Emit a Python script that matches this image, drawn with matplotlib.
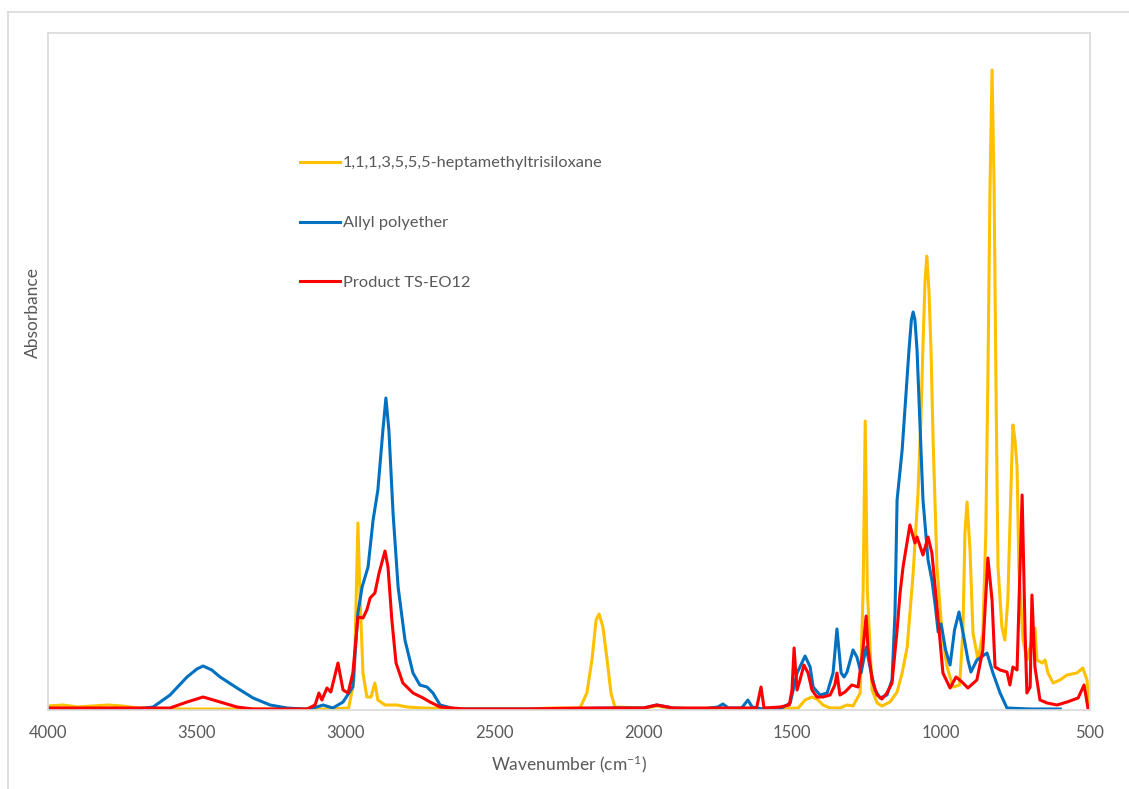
import matplotlib
matplotlib.use("Agg")
import matplotlib.pyplot as plt
from matplotlib.lines import Line2D

plt.rcParams["font.family"] = ["Lato", "DejaVu Sans"]
plt.rcParams["mathtext.default"] = "regular"

# 1,1,1,3,5,5,5-heptamethyltrisiloxane
hep_wn = [4000, 3950, 3900, 3850, 3800, 3750, 3700, 3600, 3400, 3200, 3050, 2990,
          2972, 2966, 2959, 2952, 2942, 2929, 2915, 2902, 2892, 2868, 2828, 2794,
          2740, 2600, 2400, 2300, 2213, 2190, 2173, 2159, 2149, 2136, 2122, 2109,
          2096, 2000, 1950, 1900, 1700, 1541, 1480, 1457, 1434, 1417, 1397, 1373,
          1340, 1316, 1296, 1272, 1262, 1255, 1248, 1232, 1215, 1199, 1172, 1148,
          1131, 1114, 1094, 1078, 1068, 1061, 1054, 1048, 1041, 1034, 1027, 1014,
          997, 980, 960, 938, 927, 920, 913, 903, 893, 876, 860, 850, 843, 836,
          829, 822, 816, 809, 796, 786, 776, 765, 759, 752, 745, 739, 725, 712,
          695, 685, 678, 661, 651, 641, 624, 601, 577, 544, 524, 510, 503]
hep_abs = [0.004, 0.005, 0.003, 0.004, 0.005, 0.004, 0.002, 0.001, 0.001, 0.001, 0.001, 0.002,
           0.030, 0.097, 0.187, 0.113, 0.037, 0.013, 0.013, 0.027, 0.010, 0.005, 0.005, 0.003,
           0.002, 0.001, 0.001, 0.002, 0.002, 0.017, 0.050, 0.090, 0.096, 0.083, 0.050, 0.017,
           0.003, 0.002, 0.004, 0.001, 0.001, 0.001, 0.002, 0.010, 0.013, 0.011, 0.005, 0.002,
           0.002, 0.005, 0.004, 0.017, 0.120, 0.289, 0.120, 0.020, 0.007, 0.004, 0.008, 0.018,
           0.037, 0.063, 0.137, 0.215, 0.290, 0.365, 0.430, 0.454, 0.420, 0.360, 0.270, 0.143,
           0.077, 0.043, 0.023, 0.025, 0.077, 0.177, 0.208, 0.160, 0.077, 0.050, 0.077, 0.177,
           0.330, 0.520, 0.640, 0.520, 0.330, 0.143, 0.083, 0.070, 0.110, 0.227, 0.285, 0.270,
           0.243, 0.143, 0.070, 0.050, 0.070, 0.082, 0.050, 0.047, 0.050, 0.037, 0.027, 0.030,
           0.035, 0.037, 0.042, 0.030, 0.007]

# Allyl polyether
allyl_wn = [4000, 3800, 3700, 3647, 3590, 3533, 3500, 3479, 3450, 3422, 3365, 3311,
            3254, 3197, 3143, 3120, 3076, 3043, 3009, 2976, 2959, 2945, 2925, 2908,
            2892, 2875, 2865, 2855, 2841, 2824, 2801, 2774, 2751, 2727, 2707, 2683,
            2633, 2500, 2300, 2100, 2000, 1955, 1900, 1800, 1750, 1733, 1715, 1670,
            1649, 1635, 1600, 1541, 1507, 1484, 1457, 1440, 1430, 1407, 1383, 1363,
            1350, 1336, 1326, 1316, 1296, 1283, 1269, 1252, 1239, 1222, 1205, 1182,
            1165, 1155, 1148, 1131, 1108, 1100, 1094, 1088, 1081, 1061, 1044, 1031,
            1020, 1010, 1000, 985, 970, 955, 940, 925, 910, 900, 880, 846, 826, 802,
            779, 700, 600]
allyl_abs = [0.001, 0.001, 0.001, 0.003, 0.015, 0.033, 0.041, 0.044, 0.040, 0.033, 0.022, 0.012,
             0.005, 0.002, 0.001, 0.001, 0.005, 0.002, 0.008, 0.023, 0.097, 0.123, 0.143, 0.190,
             0.220, 0.280, 0.312, 0.280, 0.197, 0.123, 0.070, 0.037, 0.025, 0.023, 0.017, 0.005,
             0.001, 0.001, 0.001, 0.002, 0.002, 0.005, 0.002, 0.001, 0.003, 0.006, 0.002, 0.002,
             0.010, 0.003, 0.001, 0.001, 0.007, 0.037, 0.054, 0.043, 0.023, 0.015, 0.017, 0.037,
             0.081, 0.037, 0.033, 0.038, 0.060, 0.053, 0.037, 0.063, 0.043, 0.020, 0.012, 0.015,
             0.030, 0.097, 0.210, 0.260, 0.360, 0.390, 0.398, 0.390, 0.360, 0.210, 0.150, 0.130,
             0.105, 0.078, 0.086, 0.060, 0.045, 0.080, 0.098, 0.075, 0.050, 0.038, 0.050, 0.057,
             0.037, 0.017, 0.002, 0.001, 0.001]

# Product TS-EO12
prod_wn = [4000, 3800, 3700, 3650, 3590, 3533, 3479, 3422, 3365, 3311, 3200, 3130,
           3103, 3090, 3080, 3063, 3050, 3026, 3009, 2992, 2976, 2959, 2942, 2929,
           2918, 2902, 2888, 2868, 2858, 2845, 2831, 2808, 2774, 2740, 2717, 2683,
           2600, 2400, 2200, 2000, 1955, 1900, 1700, 1620, 1605, 1595, 1541, 1510,
           1501, 1494, 1484, 1474, 1461, 1447, 1434, 1417, 1397, 1373, 1357, 1350,
           1340, 1323, 1300, 1279, 1262, 1252, 1246, 1232, 1215, 1199, 1182, 1165,
           1148, 1138, 1128, 1105, 1088, 1081, 1061, 1044, 1031, 1014, 994, 970,
           950, 930, 910, 880, 860, 843, 829, 819, 802, 779, 769, 759, 745, 728,
           718, 712, 701, 695, 685, 668, 644, 611, 577, 540, 520, 513, 507]
prod_abs = [0.002, 0.002, 0.002, 0.002, 0.002, 0.008, 0.013, 0.008, 0.003, 0.001, 0.001, 0.001,
            0.005, 0.017, 0.010, 0.022, 0.018, 0.047, 0.020, 0.017, 0.037, 0.093, 0.092, 0.100,
            0.112, 0.117, 0.137, 0.159, 0.143, 0.090, 0.047, 0.027, 0.017, 0.012, 0.008, 0.003,
            0.001, 0.001, 0.002, 0.002, 0.005, 0.002, 0.002, 0.002, 0.023, 0.002, 0.003, 0.005,
            0.020, 0.062, 0.020, 0.030, 0.045, 0.037, 0.020, 0.013, 0.013, 0.015, 0.025, 0.037,
            0.015, 0.018, 0.025, 0.023, 0.063, 0.094, 0.063, 0.030, 0.015, 0.011, 0.017, 0.027,
            0.080, 0.117, 0.143, 0.185, 0.167, 0.173, 0.155, 0.173, 0.157, 0.103, 0.037, 0.022,
            0.033, 0.028, 0.022, 0.030, 0.060, 0.152, 0.110, 0.043, 0.040, 0.038, 0.025, 0.043,
            0.040, 0.215, 0.077, 0.017, 0.023, 0.115, 0.043, 0.010, 0.007, 0.005, 0.008, 0.012,
            0.025, 0.013, 0.002]

series = [
    (hep_wn, hep_abs, "#FFC000", "1,1,1,3,5,5,5-heptamethyltrisiloxane"),
    (allyl_wn, allyl_abs, "#0070C0", "Allyl polyether"),
    (prod_wn, prod_abs, "#FF0000", "Product TS-EO12"),
]

fig = plt.figure(figsize=(11.29, 7.89), dpi=100)
ax = fig.add_axes([48 / 1129, 79 / 789, 1042 / 1129, 677 / 789])

for wn, ab, color, label in series:
    ax.plot(wn, ab, color=color, lw=2.2, label=label, solid_joinstyle="round")

ax.set_xlim(4000, 500)
ax.set_ylim(0, 0.677)
ax.set_xticks([4000, 3500, 3000, 2500, 2000, 1500, 1000, 500])
ax.set_yticks([])
ax.tick_params(axis="x", length=0, pad=11, labelsize=12, labelcolor="#595959")
for sp in ax.spines.values():
    sp.set_color("#D9D9D9")
    sp.set_linewidth(1.2)

ax.set_xlabel("Wavenumber (cm$^{-1}$)", fontsize=12.5, color="#595959", labelpad=9)
fig.text(33 / 1129, 1 - 312 / 789, "Absorbance", rotation=90, ha="center", va="center",
         fontsize=12.5, color="#595959")

ax.legend(loc="upper left", bbox_to_anchor=(252 / 1042, 1 - 123 / 677), frameon=False,
          handlelength=2.45, handletextpad=0.18, labelspacing=2.77, fontsize=11.8,
          labelcolor="#595959", borderaxespad=0, borderpad=0)

# outer chart frame
fig.add_artist(Line2D([8 / 1129, 1], [1 - 12 / 789, 1 - 12 / 789], color="#D9D9D9", lw=1.2))
fig.add_artist(Line2D([8 / 1129, 8 / 1129], [0, 1 - 12 / 789], color="#D9D9D9", lw=1.2))

fig.savefig("out.png", dpi=100)
